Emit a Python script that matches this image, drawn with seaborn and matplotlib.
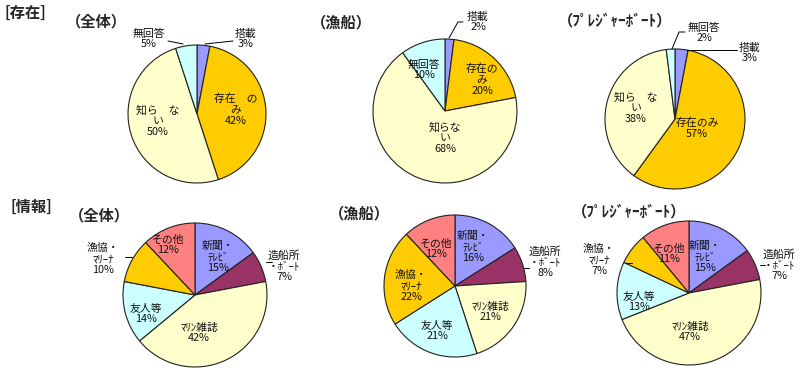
import matplotlib
matplotlib.use("Agg")
import matplotlib.pyplot as plt
import seaborn as sns

# ---- data ----
exist_labels = ['搭載', '存在のみ', '知らない', '無回答']
exist_all = [3, 42, 50, 5]
exist_fish = [2, 20, 68, 10]
exist_pleasure = [3, 57, 38, 2]

info_labels = ['新聞・ﾃﾚﾋﾞ', '造船所・ﾎﾞｰﾄ', 'ﾏﾘﾝ雑誌', '友人等', '漁協・ﾏﾘｰﾅ', 'その他']
info_all = [15, 7, 42, 14, 10, 12]
info_fish = [16, 8, 21, 21, 22, 12]
info_pleasure = [15, 7, 47, 13, 7, 11]

# ---- style ----
sns.set_theme(style="white")
plt.rcParams['font.family'] = ['Noto Sans CJK JP', 'DejaVu Sans']

exist_colors = ['#9999FF', '#FFCC00', '#FFFFCC', '#CCFFFF']
info_colors = ['#9999FF', '#993366', '#FFFFCC', '#CCFFFF', '#FFCC00', '#FF8080']

W, H = 800, 374
fig = plt.figure(figsize=(W / 100, H / 100), dpi=100)
ax = fig.add_axes([0, 0, 1, 1])


def Y(y):
    return H - y


def draw_pie(values, colors, cx, cy, r):
    ax.pie(values, colors=colors, startangle=90, counterclock=False,
           center=(cx, Y(cy)), radius=r,
           wedgeprops=dict(edgecolor='#222222', linewidth=0.8))


def lab(x, y, text, val, fs=7.8):
    ax.text(x, Y(y), f"{text}\n{val}%", ha='center', va='center',
            fontsize=fs, linespacing=1.1, color='#111111')


def line(pts):
    ax.plot([p[0] for p in pts], [Y(p[1]) for p in pts], color='black', lw=0.7)


def title(x, y, text):
    ax.text(x, Y(y), text, fontsize=11, fontweight='bold', ha='left', va='center')


# section / pie titles
title(4, 13, '[存在]')
title(66, 21, '（全体）')
title(311, 22, '（漁船）')
title(558, 20, '（ﾌﾟﾚｼﾞｬｰﾎﾞｰﾄ）')

title(10, 207, '[情報]')
title(69, 215, '（全体）')
title(329, 213, '（漁船）')
title(572, 211, '（ﾌﾟﾚｼﾞｬｰﾎﾞｰﾄ）')

# ---- 存在 pies ----
draw_pie(exist_all, exist_colors, 197, 114, 69)
lab(246, 39, '搭載', exist_all[0])
lab(236, 110, '存在　の\nみ', exist_all[1])
lab(158, 121, '知ら　な\nい', exist_all[2])
lab(149, 39, '無回答', exist_all[3])
line([(168, 41), (183, 44)])
line([(205, 44), (233, 41)])

draw_pie(exist_fish, exist_colors, 445, 111, 72)
lab(478, 22, '搭載', exist_fish[0])
lab(482, 80, '存在の\nみ', exist_fish[1])
lab(445, 138, '知らな\nい', exist_fish[2])
lab(424, 70, '無回答', exist_fish[3])
line([(449, 38), (458, 22), (463, 22)])

draw_pie(exist_pleasure, exist_colors, 675, 119, 70)
lab(750, 53, '搭載', exist_pleasure[0])
lab(697, 128, '存在のみ', exist_pleasure[1])
lab(636, 108, '知ら　な\nい', exist_pleasure[2])
lab(704, 33, '無回答', exist_pleasure[3])
line([(672, 49), (679, 32), (685, 32)])
line([(687, 50), (737, 50)])

# ---- 情報 pies ----
draw_pie(info_all, info_colors, 195, 295, 72)
lab(218, 257, '新聞・\nﾃﾚﾋﾞ', info_all[0])
lab(284, 266, '造船所\n・ﾎﾞｰﾄ', info_all[1])
lab(199, 333, 'ﾏﾘﾝ雑誌', info_all[2])
lab(146, 314, '友人等', info_all[3])
lab(103, 259, '漁協・\nﾏﾘｰﾅ', info_all[4])
lab(168, 245, 'その他', info_all[5])
line([(125, 257), (132, 257)])
line([(266, 262), (272, 262)])

draw_pie(info_fish, info_colors, 455, 286, 71)
lab(473, 247, '新聞・\nﾃﾚﾋﾞ', info_fish[0])
lab(545, 262, '造船所\n・ﾎﾞｰﾄ', info_fish[1])
lab(490, 312, 'ﾏﾘﾝ雑誌', info_fish[2])
lab(437, 331, '友人等', info_fish[3])
lab(411, 286, '漁協・\nﾏﾘｰﾅ', info_fish[4])
lab(436, 249, 'その他', info_fish[5])
line([(524, 268), (529, 268)])

draw_pie(info_pleasure, info_colors, 689, 293, 72)
lab(705, 257, '新聞・\nﾃﾚﾋﾞ', info_pleasure[0])
lab(779, 265, '造船所\n・ﾎﾞｰﾄ', info_pleasure[1])
lab(690, 332, 'ﾏﾘﾝ雑誌', info_pleasure[2])
lab(639, 302, '友人等', info_pleasure[3])
lab(599, 260, '漁協・\nﾏﾘｰﾅ', info_pleasure[4])
lab(669, 254, 'その他', info_pleasure[5])
line([(626, 263), (632, 263)])
line([(760, 265), (765, 265)])

# limits set last: ax.pie resets them
ax.set_xlim(0, W)
ax.set_ylim(0, H)
ax.set_aspect('equal')
ax.axis('off')

fig.savefig('out.png', dpi=100, facecolor='white')
